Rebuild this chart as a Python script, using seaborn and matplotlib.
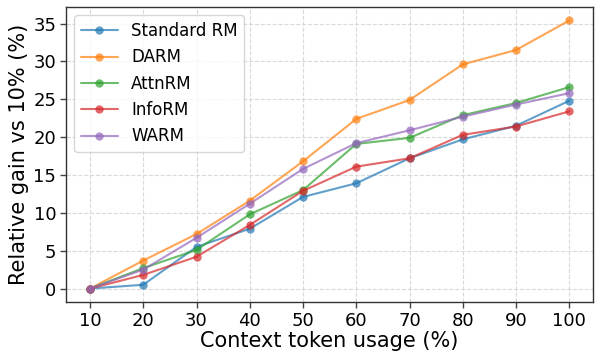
import numpy as np
import pandas as pd
import matplotlib
matplotlib.use("Agg")
import matplotlib.pyplot as plt
import seaborn as sns

context = [10, 20, 30, 40, 50, 60, 70, 80, 90, 100]
standard_rm = [0, 0.5, 5.5, 7.9, 12.1, 13.9, 17.2, 19.7, 21.5, 24.8]
darm = [0, 3.7, 7.2, 11.6, 16.8, 22.4, 24.9, 29.6, 31.5, 35.4]
attnrm = [0, 2.7, 5.1, 9.8, 13.0, 19.1, 19.9, 22.9, 24.5, 26.6]
inform = [0, 1.8, 4.2, 8.4, 12.9, 16.1, 17.2, 20.3, 21.4, 23.4]
warm = [0, 2.5, 6.7, 11.2, 15.8, 19.2, 20.9, 22.7, 24.3, 25.8]

methods = ["Standard RM", "DARM", "AttnRM", "InfoRM", "WARM"]
series = [standard_rm, darm, attnrm, inform, warm]

df = pd.DataFrame({
    "context": context * len(methods),
    "gain": sum(series, []),
    "method": sum([[m] * len(context) for m in methods], []),
})

sns.set_style("white")
plt.rcParams['font.family'] = ['DejaVu Sans']
plt.rcParams['text.color'] = 'black'
plt.rcParams['axes.labelcolor'] = 'black'
plt.rcParams['xtick.color'] = 'black'
plt.rcParams['ytick.color'] = 'black'

fig, ax = plt.subplots(figsize=(5.95, 3.54), dpi=100)
palette = sns.color_palette("tab10", 5)
sns.lineplot(data=df, x="context", y="gain", hue="method", hue_order=methods,
             palette=palette, marker="o", markersize=6, markeredgewidth=0,
             linewidth=1.5, alpha=0.7, ax=ax)

ax.set_xticks(context)
ax.set_xlabel("Context token usage (%)", fontsize=15, labelpad=1)
ax.set_ylabel("Relative gain vs 10% (%)", fontsize=15, labelpad=3)
ax.tick_params(axis="both", labelsize=13, length=4, width=1, pad=3, left=True, bottom=True,
               color="#444444", labelcolor="black")
ax.grid(True, linestyle="--", color="#d9d9d9", linewidth=0.8)
for s in ax.spines.values():
    s.set_color("#333333")
    s.set_linewidth(1.0)

leg = ax.legend(loc="upper left", fontsize=12, frameon=True, handlelength=2.2)
leg.get_frame().set_edgecolor("#cccccc")

fig.subplots_adjust(left=0.111, right=0.997, top=0.980, bottom=0.147)
fig.savefig("out.png", dpi=100)
